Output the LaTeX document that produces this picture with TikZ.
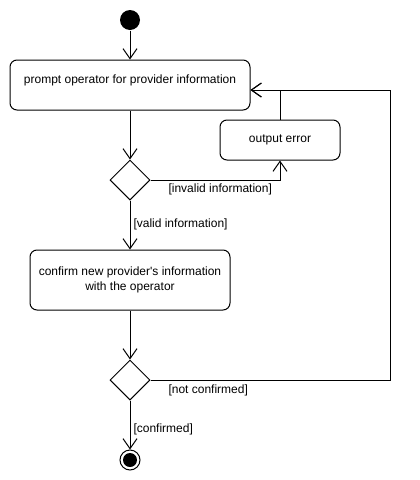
\documentclass[tikz,border=0pt]{standalone}
\usepackage{fontspec}
\setmainfont{Liberation Sans}
\usepackage{tikz}
\usetikzlibrary{arrows.meta,shapes.geometric}

\begin{document}
\begin{tikzpicture}[x=1pt,y=-1pt,line width=1pt,
>={Straight Barb[length=10pt,width=14pt]},
font=\fontsize{12}{15}\selectfont,
action node/.style = {rectangle,draw,rounded corners=7pt,align=center,inner sep=0pt},
decision node/.style = {diamond,draw,minimum width=40pt,minimum height=40pt,inner sep=0pt},
guard/.style = {anchor=west,inner sep=0pt}]
\useasboundingbox (0,0) rectangle (420,480);

\node[circle,fill=black,minimum size=20pt,inner sep=0pt] at (130,20) (start) {};
\node[action node,minimum width=240pt,minimum height=50pt] at (130,85) (prompt) {};
\node at (130,80) (promptText) {prompt operator for provider information};
\node[decision node] at (130,180) (check) {};
\node[action node,minimum width=120pt,minimum height=40pt] at (280,140) (error) {output error};
\node[action node,minimum width=200pt,minimum height=60pt] at (130,280) (confirm)
  {confirm new provider\textquotesingle s information\\with the operator};
\node[decision node] at (130,380) (ok) {};
\node[circle,draw,minimum size=20pt,inner sep=0pt] at (130,460) (end) {};
\node[circle,fill=black,minimum size=14pt,inner sep=0pt] at (130,460) (endDot) {};

\node[guard] at (168,189) (invalid) {[invalid information]};
\node[guard] at (133,224) (valid) {[valid information]};
\node[guard] at (168,390) (notok) {[not confirmed]};
\node[guard] at (133,429) (yes) {[confirmed]};

\draw[->] (start)--(prompt);
\draw[->] (prompt)--(check);
\draw[->] (check.east) -| (error.south);
\draw[->] (error.north) |- ([yshift=-5pt]prompt.east);
\draw[->] (check)--(confirm);
\draw[->] (confirm)--(ok);
\draw[->] (ok.east) -- (390,380) |- ([yshift=-5pt]prompt.east);
\draw[->] (ok)--(end);
\end{tikzpicture}
\end{document}
